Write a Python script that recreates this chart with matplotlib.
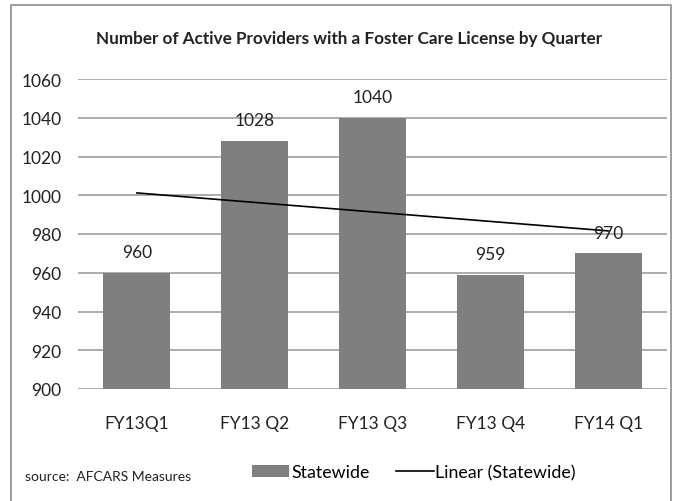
import matplotlib
matplotlib.use('Agg')
import matplotlib.pyplot as plt
import numpy as np

plt.rcParams['font.family'] = ['Lato', 'DejaVu Sans']

# data
quarters = ['FY13Q1', 'FY13 Q2', 'FY13 Q3', 'FY13 Q4', 'FY14 Q1']
statewide = [960, 1028, 1040, 959, 970]
y_ticks = [900, 920, 940, 960, 980, 1000, 1020, 1040, 1060]

fig = plt.figure(figsize=(6.75, 5.02), dpi=100)
ax = fig.add_axes([78/675, 1-390/502, 589/675, 310/502])

x = np.arange(len(quarters))
bars = ax.bar(x, statewide, width=0.57, color='#7f7f7f', zorder=2)

# linear trend like Excel
m, b = np.polyfit(x, statewide, 1)
trend, = ax.plot(x, m*x + b, color='black', lw=1.2, zorder=3)

for xi, v in zip(x, statewide):
    ax.annotate(str(v), (xi, v), xytext=(0, 9), textcoords='offset points',
                ha='center', va='bottom', fontsize=12.5, color='#222222')

ax.set_xlim(-0.5, len(quarters)-0.5)
ax.set_ylim(900, 1060)
ax.set_yticks(y_ticks)
ax.set_xticks(x)
ax.set_xticklabels(quarters)
ax.tick_params(length=0, labelsize=12.5, colors='#222222')
ax.tick_params(axis='y', pad=12)
ax.tick_params(axis='x', pad=19)
ax.grid(axis='y', color='#a6a6a6', lw=1.3, zorder=0)
for s in ax.spines.values():
    s.set_visible(False)

fig.text(349/675, 1-39/502, 'Number of Active Providers with a Foster Care License by Quarter',
         ha='center', va='center', fontsize=12.3, fontweight='bold', color='#222222')
fig.text(25/675, 1-477/502, 'source:  AFCARS Measures', ha='left', va='center',
         fontsize=10, color='#222222')

fig.legend([bars, trend], ['Statewide', 'Linear (Statewide)'], loc='center',
           bbox_to_anchor=(414/675, 1-473/502), ncol=2, frameon=False,
           fontsize=12.8, handlelength=2.1, handletextpad=0.1, columnspacing=1.5)

# outer frame of the pasted chart
fig.add_artist(plt.Line2D([11/675, 11/675, 671/675, 671/675],
                          [0, 1-6/502, 1-6/502, 0], transform=fig.transFigure,
                          color='#8c8c8c', lw=1.2))

fig.savefig('out.png', dpi=100)
